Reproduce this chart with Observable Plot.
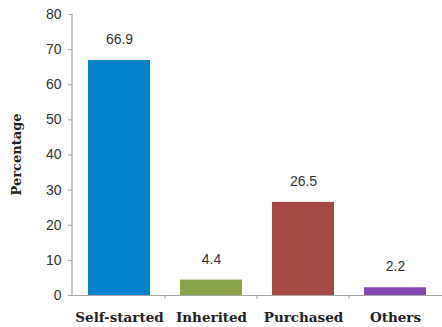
<!DOCTYPE html>
<html>
<head>
<meta charset="utf-8">
<script src="https://cdn.jsdelivr.net/npm/d3@7"></script>
<script src="https://cdn.jsdelivr.net/npm/@observablehq/plot@0.6"></script>
<style>
  html, body { margin: 0; padding: 0; background: #fff; }
  #chart { width: 442px; height: 327px; }
</style>
</head>
<body>
<div id="chart"></div>
<script>
const categories = ["Self-started", "Inherited", "Purchased", "Others"];
const values = [66.9, 4.4, 26.5, 2.2];
const colors = ["#0481CB", "#8AA54B", "#A54A44", "#8446B3"];
const yTicks = [0, 10, 20, 30, 40, 50, 60, 70, 80];
const yLabel = "Percentage";

const data = categories.map((c, i) => ({category: c, value: values[i], color: colors[i]}));

const serif = "'DejaVu Serif', serif";
const sans = "'Liberation Sans', Arial, sans-serif";

const chart = Plot.plot({
  width: 442,
  height: 327,
  marginLeft: 72,
  marginRight: 0,
  marginTop: 14,
  marginBottom: 32,
  style: {background: "#fff", fontFamily: sans, fontSize: "14px", color: "#333"},
  x: {domain: categories, paddingInner: 0.33, paddingOuter: 0.165, label: null},
  y: {domain: [0, 80], label: null},
  marks: [
    Plot.barY(data, {x: "category", y: "value", fill: "color"}),
    Plot.ruleY([0], {stroke: "#a6a6a6", strokeWidth: 1.2}),
    Plot.axisY({ticks: yTicks, tickSize: 4, tickPadding: 7, stroke: "#a6a6a6", fill: "#333", fontSize: 14, fontFamily: sans}),
    Plot.axisX({tickSize: 0, tickPadding: 17, fill: "#222", fontSize: 13.5, fontWeight: "bold", fontFamily: serif}),
    Plot.text(data, {x: "category", y: "value", text: d => d.value.toFixed(1), dy: -21, fill: "#333", fontSize: 14, fontFamily: sans})
  ]
});

// axis line and band-boundary tick marks, positioned from Plot's x and y scales
const xs = chart.scale("x");
const ys = chart.scale("y");
const svg = d3.select(chart);
const y0 = ys.apply(0);
const x0 = xs.range[0];
svg.append("line")
  .attr("x1", x0).attr("x2", x0)
  .attr("y1", ys.apply(80)).attr("y2", y0)
  .attr("stroke", "#a6a6a6").attr("stroke-width", 1.2);
const bounds = categories.slice(1).map(c => xs.apply(c) - (xs.step - xs.bandwidth) / 2);
svg.append("g")
  .selectAll("line")
  .data(bounds)
  .join("line")
  .attr("x1", d => d).attr("x2", d => d)
  .attr("y1", y0).attr("y2", y0 + 4)
  .attr("stroke", "#a6a6a6");

svg.append("text")
  .attr("transform", `translate(17,${(ys.apply(0) + ys.apply(80)) / 2}) rotate(-90)`)
  .attr("text-anchor", "middle")
  .attr("dominant-baseline", "middle")
  .attr("font-family", serif)
  .attr("font-weight", "bold")
  .attr("font-size", 13)
  .attr("fill", "#222")
  .text(yLabel);

document.getElementById("chart").appendChild(chart);
</script>
</body>
</html>
